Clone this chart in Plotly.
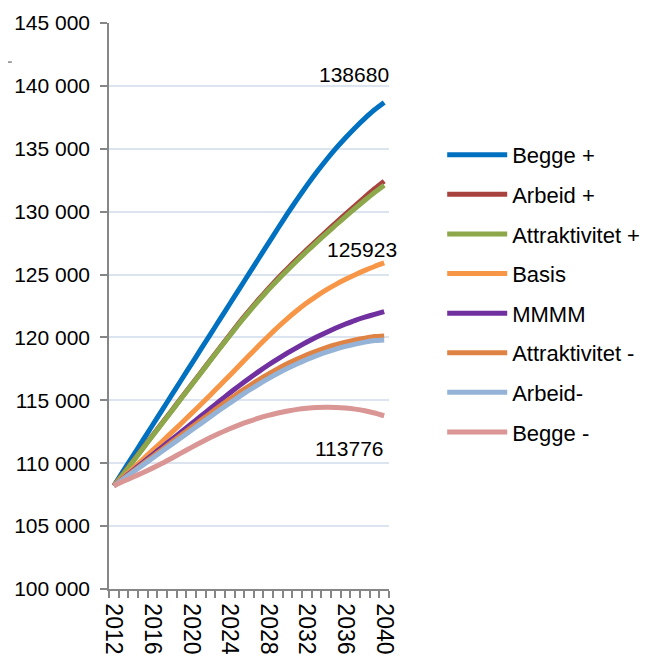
import plotly.graph_objects as go

years = list(range(2012, 2041))
tick_years = [2012, 2016, 2020, 2024, 2028, 2032, 2036, 2040]

begge_pluss = [108200, 109405, 110610, 111815, 113020, 114225, 115430, 116635, 117840, 119045,
               120250, 121455, 122660, 123865, 125070, 126275, 127480, 128680, 129860, 131000,
               132090, 133130, 134110, 135030, 135880, 136680, 137420, 138100, 138680]
arbeid_pluss = [108200, 109200, 110200, 111200, 112200, 113200, 114200, 115200, 116200, 117200,
                118200, 119200, 120200, 121180, 122120, 123020, 123880, 124700, 125490, 126250,
                126990, 127710, 128420, 129120, 129810, 130490, 131160, 131820, 132430]
attr_pluss = [108200, 109160, 110160, 111160, 112160, 113160, 114160, 115160, 116160, 117160,
              118160, 119160, 120140, 121110, 122040, 122930, 123780, 124590, 125370, 126120,
              126850, 127560, 128260, 128940, 129610, 130270, 130910, 131520, 132100]
basis = [108200, 108900, 109600, 110305, 111015, 111730, 112450, 113180, 113920, 114670,
         115430, 116200, 116980, 117770, 118560, 119340, 120100, 120830, 121520, 122160,
         122750, 123290, 123780, 124220, 124620, 124990, 125330, 125640, 125923]
mmmm = [108200, 108815, 109430, 110045, 110660, 111275, 111890, 112505, 113120, 113735,
        114350, 114970, 115580, 116170, 116740, 117285, 117805, 118300, 118770, 119215,
        119635, 120030, 120400, 120745, 121065, 121365, 121615, 121835, 122055]
attr_minus = [108200, 108780, 109360, 109940, 110520, 111100, 111680, 112260, 112840, 113410,
              113980, 114545, 115100, 115630, 116140, 116625, 117085, 117520, 117925, 118290,
              118625, 118920, 119185, 119420, 119625, 119800, 119945, 120070, 120120]
arbeid_minus = [108200, 108750, 109300, 109850, 110400, 110950, 111500, 112050, 112600, 113150,
                113700, 114245, 114780, 115300, 115800, 116275, 116725, 117150, 117545, 117910,
                118245, 118550, 118825, 119070, 119285, 119470, 119625, 119750, 119800]
begge_minus = [108200, 108560, 108900, 109250, 109610, 109990, 110400, 110820, 111240, 111650,
               112040, 112400, 112740, 113050, 113330, 113580, 113800, 113990, 114150, 114280,
               114370, 114430, 114450, 114440, 114390, 114300, 114170, 113990, 113776]

series_names = ["Begge +", "Arbeid +", "Attraktivitet +", "Basis", "MMMM",
                "Attraktivitet -", "Arbeid-", "Begge -"]
series_values = [begge_pluss, arbeid_pluss, attr_pluss, basis, mmmm,
                 attr_minus, arbeid_minus, begge_minus]
series_colors = ["#0070C0", "#A8423F", "#8CA84B", "#F79646", "#7030A0",
                 "#DF8344", "#95B3D7", "#D99694"]

AXIS_GREY = "#868686"
FONT = "Liberation Sans, Arial, sans-serif"

fig = go.Figure()
for name, vals, color in zip(series_names, series_values, series_colors):
    fig.add_trace(go.Scatter(
        x=years, y=vals, mode="lines", name=name, legendgroup=name,
        line=dict(color=color, width=5, shape="spline", smoothing=0.5),
    ))

# data labels at the last point of three series (dx, dy in px)
end_labels = [(begge_pluss, 7, 28), (basis, 15, 13), (begge_minus, 2, -33)]
for vals, dx, dy in end_labels:
    fig.add_annotation(x=years[-1], y=vals[-1], text=str(vals[-1]), showarrow=False,
                       xanchor="right", yanchor="middle", xshift=dx, yshift=dy,
                       font=dict(size=21, color="black", family=FONT))

# stray grey dash at the left edge of the original
fig.add_shape(type="line", xref="paper", yref="paper", x0=-0.361, x1=-0.347,
              y0=0.931, y1=0.931, line=dict(color=AXIS_GREY, width=1.5))

# page has an 8px body margin, so the figure is 8px smaller and margins shifted
fig.update_layout(
    width=641, height=649,
    margin=dict(l=101, r=260, t=15, b=68, autoexpand=False),
    plot_bgcolor="white", paper_bgcolor="white",
    font=dict(family=FONT, color="black"),
    separators=", ",
    showlegend=True,
    legend=dict(x=1.19, y=0.804, xanchor="left", yanchor="top",
                font=dict(size=22), tracegroupgap=8, itemwidth=60,
                bgcolor="rgba(0,0,0,0)"),
)
fig.update_xaxes(
    range=[2011.5, 2040.5], tickvals=tick_years, tickangle=90,
    tickfont=dict(size=23), ticks="", ticklabelstandoff=8, automargin=False,
    showline=True, linecolor=AXIS_GREY, linewidth=1.5,
    showgrid=False, zeroline=False,
    minor=dict(tick0=2011.5, dtick=1, ticks="outside", ticklen=7,
               tickcolor=AXIS_GREY, tickwidth=1.5, showgrid=False),
)
fig.update_yaxes(
    range=[100000, 145000], tick0=100000, dtick=5000, tickformat=",d",
    tickfont=dict(size=21), ticks="outside", ticklen=7, ticklabelstandoff=6,
    automargin=False, tickcolor=AXIS_GREY, tickwidth=1.5,
    showline=True, linecolor=AXIS_GREY, linewidth=1.5,
    showgrid=True, gridcolor="#DCE4F0", gridwidth=1.5, zeroline=False,
)

fig.write_html("out.html")
